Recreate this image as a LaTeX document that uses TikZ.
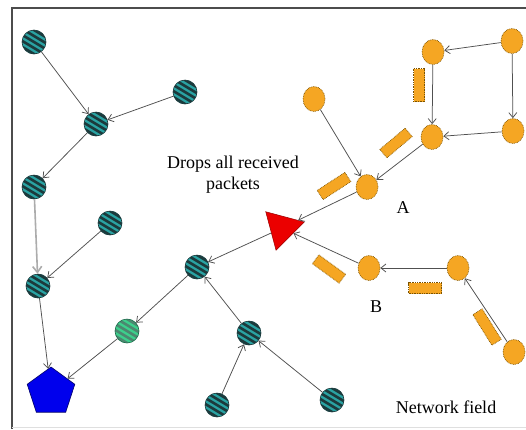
\documentclass[tikz,border=0pt]{standalone}
\usepackage{fontspec}
\setmainfont{Liberation Serif}
\usetikzlibrary{shapes.geometric,arrows.meta}
\definecolor{teal1}{HTML}{2AA3A3}
\definecolor{tealdark}{HTML}{1C3A3C}
\definecolor{green1}{HTML}{3CD08C}
\definecolor{greendark}{HTML}{1F6A4C}
\definecolor{orng}{HTML}{F5A623}
\definecolor{orngdark}{HTML}{7A5200}
\definecolor{edgecol}{HTML}{505050}
\newcommand\mystripes[1]{\foreach \k in {-18,-12,...,18}{\draw[line width=2.6pt,#1] ([shift={(-20pt,\k pt+12pt)}]path picture bounding box.center) -- ++(40pt,-24pt);}}
\tikzset{
  tnode/.style={circle, minimum width=23pt, minimum height=24pt, inner sep=0pt, fill=teal1, draw=tealdark, line width=0.6pt, path picture={\mystripes{tealdark}}},
  gnode/.style={circle, minimum width=23pt, minimum height=24pt, inner sep=0pt, fill=green1, draw=greendark, line width=0.6pt, path picture={\mystripes{greendark!80}}},
  onode/.style={ellipse, minimum width=22pt, minimum height=25pt, inner sep=0pt, fill=orng, draw=orngdark, line width=0.7pt, densely dotted},
  obar/.style={rectangle, minimum width=33pt, minimum height=11pt, inner sep=0pt, fill=orng, draw=orngdark, line width=0.7pt, densely dotted},
  edge/.style={draw=edgecol, line width=0.75pt, -{Straight Barb[length=5pt,width=8pt]}},
  lbl/.style={font=\fontsize{18}{21}\selectfont, inner sep=0pt, align=center}
}
\begin{document}
\begin{tikzpicture}[x=1pt,y=-1pt]
\useasboundingbox (0,0) rectangle (526,429);
\fill[white] (0,0) rectangle (526,429);
% frame
\draw[line width=1.6pt, draw=gray!60!black] (12,429) -- (12,8) -- (526,8);
\draw[line width=0.8pt, draw=gray!25] (12,427) -- (526,427);
% teal nodes
\node[tnode] (t1) at (34,42) {};
\node[tnode] (t2) at (96,124) {};
\node[tnode] (t3) at (185,92) {};
\node[tnode] (t4) at (34,187) {};
\node[tnode] (t5) at (110,223) {};
\node[tnode] (t6) at (38,286) {};
\node[tnode] (t7) at (197,267) {};
\node[gnode] (t8) at (127,331) {};
\node[tnode] (t9) at (249,333) {};
\node[tnode] (t10) at (217,405) {};
\node[tnode] (t11) at (332,400) {};
% sink and black hole
\node[regular polygon, regular polygon sides=5, minimum size=50pt, inner sep=0pt, fill=blue!93!black, draw=blue!40!black, line width=0.6pt] (sink) at (51,392) {};
\node[regular polygon, regular polygon sides=3, shape border rotate=-75, minimum size=46pt, inner sep=0pt, fill=red!92!black, draw=red!60!black, line width=0.5pt] (bh) at (282,228) {};
% orange nodes
\node[onode] (o1) at (314,99) {};
\node[onode] (o2) at (433,52) {};
\node[onode] (o3) at (512,41) {};
\node[onode] (o4) at (432,137) {};
\node[onode] (o5) at (513,131) {};
\node[onode] (o6) at (367,187) {};
\node[onode] (o7) at (369,268) {};
\node[onode] (o8) at (458,268) {};
\node[onode] (o9) at (514,352) {};
% orange bars
\node[obar, rotate=90] (r1) at (419,85) {};
\node[obar, rotate=40] (r2) at (396,143) {};
\node[obar, rotate=33] (r3) at (334,186) {};
\node[obar, rotate=-36] (r4) at (329,269) {};
\node[obar] (r5) at (425,288) {};
\node[obar, rotate=-58, minimum width=36pt] (r6) at (487,327) {};
% edges
\draw[edge] (t1) -- (t2);
\draw[edge] (t3) -- (t2);
\draw[edge] (t2) -- (t4);
\draw[draw=gray!65, line width=1.6pt, -{Straight Barb[length=6pt,width=9pt]}] (t4) -- (t6);
\draw[edge] (t5) -- (t6);
\draw[edge] (t6) -- (sink);
\draw[edge] (t7) -- (t8);
\draw[edge] (t8) -- (sink);
\draw[edge] (t9) -- (t7);
\draw[edge] (t10) -- (t9);
\draw[edge] (t11) -- (t9);
\draw[edge] (bh) -- (t7);
\draw[edge] (o6) -- (bh);
\draw[edge] (o7) -- (bh);
\draw[edge] (o1) -- (o6);
\draw[edge] (o4) -- (o6);
\draw[edge] (o2) -- (o4);
\draw[edge] (o3) -- (o2);
\draw[edge] (o3) -- (o5);
\draw[edge] (o5) -- (o4);
\draw[edge] (o8) -- (o7);
\draw[edge] (o9) -- (o8);
% labels
\node[lbl] (drop) at (233,175) {Drops all received\\packets};
\node[lbl] (la) at (403,208) {A};
\node[lbl] (lb) at (376,307) {B};
\node[lbl] (nf) at (446,407) {Network field};
\end{tikzpicture}
\end{document}
